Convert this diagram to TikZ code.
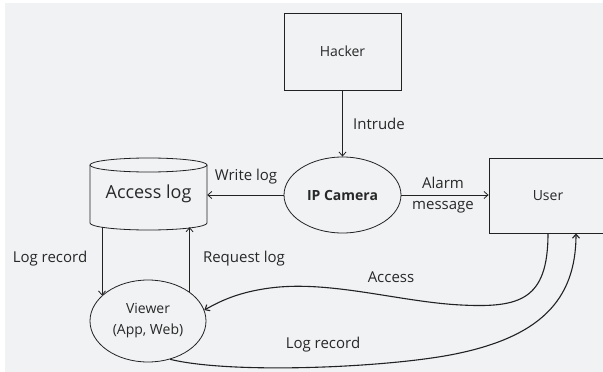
\documentclass[tikz,border=0pt]{standalone}
\usepackage{fontspec}
\setmainfont{Open Sans}
\usetikzlibrary{arrows.meta,shapes.geometric,calc}
\definecolor{bg}{RGB}{240,242,244}
\definecolor{ln}{RGB}{34,34,34}
\definecolor{tx}{RGB}{40,40,40}
\begin{document}
\begin{tikzpicture}[x=1pt,y=-1pt,
  box/.style={draw=ln,line width=0.8pt,rectangle,inner sep=0pt,text=tx,font=\fontsize{14}{16}\selectfont},
  ell/.style={draw=ln,line width=0.8pt,ellipse,inner sep=0pt,text=tx,font=\fontsize{14}{21}\selectfont,align=center},
  lbl/.style={text=tx,font=\fontsize{15}{18}\selectfont,inner sep=0pt},
  arr/.style={draw=ln,line width=0.8pt,-{Straight Barb[length=4pt,width=7pt]}},
  curve/.style={arr,line width=1.1pt}]
\useasboundingbox (0,0) rectangle (603,372);
\clip (0,0) rectangle (603,372);
\fill[white] (0,0) rectangle (603,372);
\fill[bg] (5,3) rectangle (603,372);

% nodes
\node[box,minimum width=117pt,minimum height=77pt] (hacker) at (342.5,51.5) {Hacker};
\node[ell,minimum width=117pt,minimum height=76pt,font=\bfseries\fontsize{14}{17}\selectfont] (cam) at (342.5,195) {IP Camera};
\node[minimum width=117pt,minimum height=72pt,inner sep=0pt,font=\fontsize{18}{22}\selectfont,text=tx] (log) at (148.5,194) {Access log};
\node[ell,minimum width=116pt,minimum height=82pt] (viewer) at (148,321) {Viewer\\(App, Web)};
\node[box,minimum width=118pt,minimum height=75pt] (user) at (548,195.5) {User};

% cylinder outline
\draw[ln,line width=0.8pt] (148.5,165) ellipse [x radius=58.5, y radius=7];
\draw[ln,line width=0.8pt] (90,165) -- (90,223) arc[start angle=180,end angle=0,x radius=58.5,y radius=7] -- (207,165);

% helper coordinates
\coordinate (lb) at ($(log.south)+(0,-3)$);
\coordinate (uA) at (user.south);
\coordinate (uB) at ($(user.south)+(28,0)$);

% connectors
\draw[arr] (hacker) -- (cam);
\draw[arr] (cam.west) -- (cam.west -| log.east);
\draw[arr] (cam.east) -- (cam.east -| user.west);
\draw[arr] (lb -| viewer.151.5) -- (viewer.151.5);
\draw[arr] (viewer.35) -- (viewer.35 |- lb);
\draw[curve] (uA) .. controls (548,300) and (520,308) .. (461,305) .. controls (400,302) and (330,280) .. (270,288) .. controls (240,292) and (222,300) .. (viewer.11);
\draw[curve] (viewer.300) .. controls (230,374) and (380,368) .. (450,355) .. controls (540,338) and (576,300) .. (uB);

% labels
\node[lbl,anchor=west] (lint) at (353,124) {Intrude};
\node[lbl] (lwr) at (246,177) {Write log};
\node[lbl] (lal) at (443,183) {Alarm};
\node[lbl] (lms) at (443,207) {message};
\node[lbl] (llr1) at (50,259) {Log record};
\node[lbl] (lrq) at (244,259) {Request log};
\node[lbl] (lac) at (391,277) {Access};
\node[lbl] (llr2) at (323,345) {Log record};
\end{tikzpicture}
\end{document}
